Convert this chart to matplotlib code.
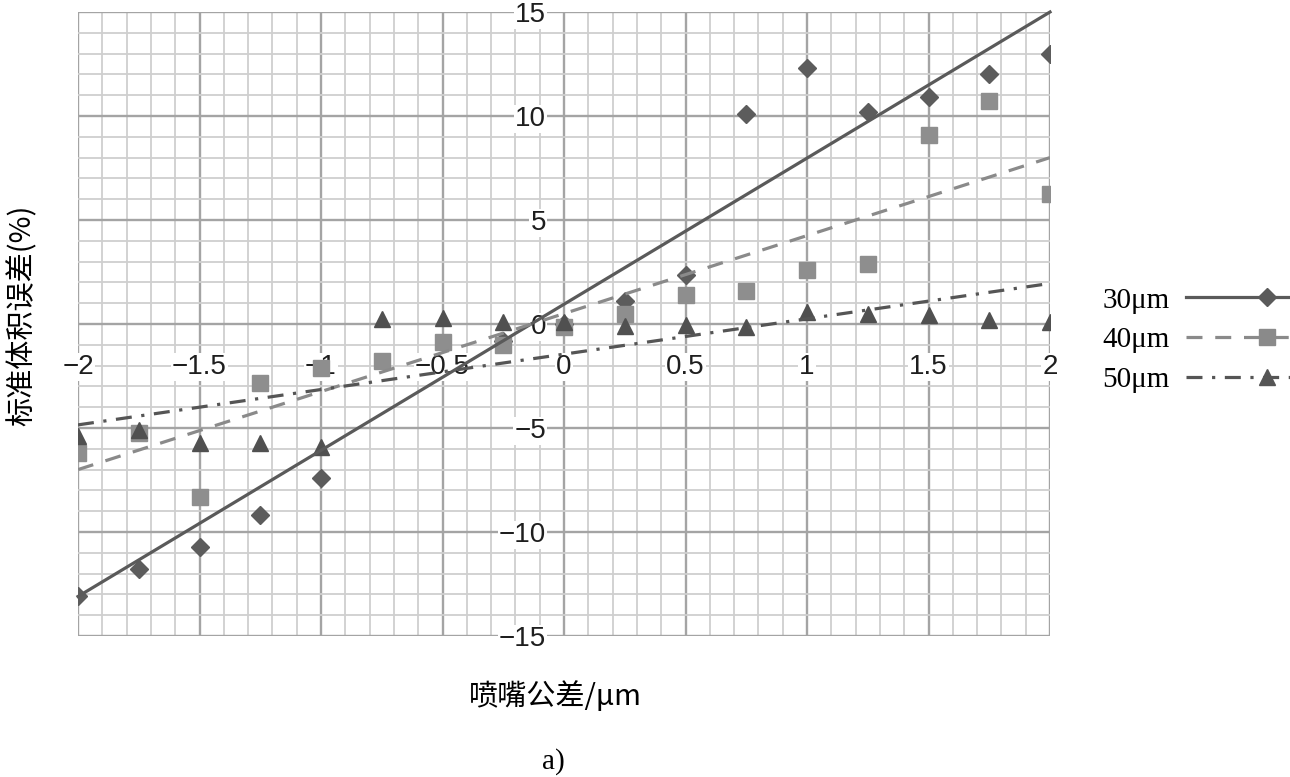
import numpy as np
import matplotlib
matplotlib.use("Agg")
import matplotlib.pyplot as plt
import matplotlib.transforms as mtransforms
from matplotlib.ticker import MultipleLocator

plt.rcParams['font.family'] = ['Liberation Sans', 'Noto Sans CJK SC', 'DejaVu Sans']

# tolerance of nozzle (um)
x = [-2, -1.75, -1.5, -1.25, -1, -0.75, -0.5, -0.25, 0, 0.25, 0.5, 0.75, 1, 1.25, 1.5, 1.75, 2]
err_30 = [-13.1, -11.8, -10.7, -9.2, -7.4, np.nan, np.nan, -0.8, 0.0, 1.1, 2.35, 10.1, 12.3, 10.2, 10.9, 12.0, 13.0]
err_40 = [-6.2, -5.25, -8.3, -2.85, -2.1, -1.8, -0.87, -1.0, -0.15, 0.5, 1.4, 1.6, 2.6, 2.9, 9.1, 10.7, 6.25]
err_50 = [-5.4, -5.1, -5.7, -5.7, -5.9, 0.25, 0.3, 0.1, 0.1, -0.1, -0.05, -0.15, 0.6, 0.5, 0.45, 0.2, 0.1]

# trend lines (values at x = -2 and x = 2)
trend_x = [-2, 2]
trend_30 = [-13.1, 15.0]
trend_40 = [-7.0, 8.0]
trend_50 = [-4.85, 1.95]

xticks = [-2, -1.5, -1, -0.5, 0, 0.5, 1, 1.5, 2]
xlabels = ['\u22122', '\u22121.5', '\u22121', '\u22120.5', '0', '0.5', '1', '1.5', '2']
yticks = [-15, -10, -5, 0, 5, 10, 15]
ylabels = ['\u221215', '\u221210', '\u22125', '0', '5', '10', '15']

fig = plt.figure(figsize=(12.9, 7.77), dpi=100)
ax = fig.add_axes([78/1290, 1-636/777, (1050-78)/1290, (636-12)/777])

ax.set_xlim(-2, 2)
ax.set_ylim(-15, 15)
ax.xaxis.set_major_locator(MultipleLocator(0.5))
ax.xaxis.set_minor_locator(MultipleLocator(0.1))
ax.yaxis.set_major_locator(MultipleLocator(5))
ax.yaxis.set_minor_locator(MultipleLocator(1))
ax.grid(which='major', color='#a4a4a4', lw=1.7)
ax.grid(which='minor', color='#cfcfcf', lw=1.3)
ax.set_axisbelow(True)
for s in ax.spines.values():
    s.set_visible(False)
ax.tick_params(which='both', length=0, labelbottom=False, labelleft=False)

# tick labels sit along the zero lines, on a white patch over the grid
xoff = mtransforms.offset_copy(ax.transData, fig=fig, y=-30, units='dots')
yoff = mtransforms.offset_copy(ax.transData, fig=fig, x=-18, units='dots')
box = dict(facecolor='white', edgecolor='none', pad=0.8)
for xt, lab in zip(xticks, xlabels):
    ax.text(xt, 0, lab, transform=xoff, ha='center', va='top', fontsize=20,
            color='#1e1e1e', bbox=box, zorder=2)
for yt, lab in zip(yticks, ylabels):
    ax.text(0, yt, lab, transform=yoff, ha='right', va='center_baseline', fontsize=20,
            color='#1e1e1e', bbox=box, zorder=2)

ax.plot(x, err_30, ls='none', marker='D', ms=9, color='#5c5c5c', zorder=3)
ax.plot(x, err_40, ls='none', marker='s', ms=12, color='#8e8e8e', zorder=4)
ax.plot(x, err_50, ls='none', marker='^', ms=12, color='#505050', zorder=5)

ax.plot(trend_x, trend_30, color='#5a5a5a', lw=2.3, zorder=6, clip_on=False)
ax.plot(trend_x, trend_40, color='#8a8a8a', lw=2.3, ls=(0, (5, 4)), zorder=6)
ax.plot(trend_x, trend_50, color='#555555', lw=2.3, ls=(0, (5, 3, 1, 3)), zorder=6)

# legend handles: marker + line style together
h30, = ax.plot([], [], color='#5a5a5a', lw=2.3, marker='D', ms=9)
h40, = ax.plot([], [], color='#8a8a8a', lw=2.3, ls=(0, (5, 4)), marker='s', ms=11)
h50, = ax.plot([], [], color='#555555', lw=2.3, ls=(0, (5, 3, 1, 3)), marker='^', ms=11)
leg = fig.legend([h30, h40, h50], ['30\u03bcm', '40\u03bcm', '50\u03bcm'],
                 loc='center left', bbox_to_anchor=(1076/1290, 1-340/777),
                 markerfirst=False, frameon=False, handlelength=5.6, numpoints=1,
                 labelspacing=0.45, handletextpad=0.55,
                 prop={'family': ['Liberation Serif', 'DejaVu Serif'], 'size': 21})

fig.text(22/1290, 1-315/777, '标准体积误差(%)', rotation=90, ha='center', va='center',
         fontsize=21, family=['Noto Sans CJK SC', 'DejaVu Sans'])
fig.text(555/1290, 1-697/777, '喷嘴公差/\u03bcm', ha='center', va='center',
         fontsize=21, family=['Noto Sans CJK SC', 'DejaVu Sans'])
fig.text(553/1290, 1-762/777, 'a)', ha='center', va='center',
         fontsize=21, family=['Liberation Serif', 'DejaVu Serif'])

fig.savefig('out.png', dpi=100)
